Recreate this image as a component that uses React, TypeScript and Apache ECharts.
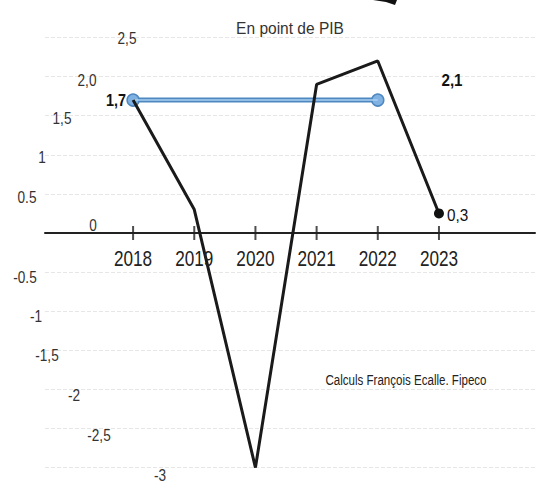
import React, { useEffect, useRef } from "react";
import * as echarts from "echarts";

const years = [2018, 2019, 2020, 2021, 2022, 2023];
const soldeValues = [1.7, 0.3, -3.0, 1.9, 2.2, 0.25];
const cibleYears = [2018, 2022];
const cibleValues = [1.7, 1.7];
const yTickValues = [2.5, 2, 1.5, 1, 0.5, 0, -0.5, -1, -1.5, -2, -2.5, -3];
const yTickLabels = ["2,5", "2,0", "1,5", "1", "0.5", "0", "-0.5", "-1", "-1,5", "-2", "-2,5", "-3"];
const labelCible = "1,7";
const labelPeak = "2,1";
const labelLast = "0,3";
const titleText = "En point de PIB";
const sourceText = "Calculs François Ecalle. Fipeco";

// layout only (scanned, staggered tick-label placement)
const yLabelX = [127, 87, 62, 42, 27, 93, 25, 36, 47, 74, 99, 160];
const yLabelDy = [0.5, 3, 2, 2, 3, -8, 5, 5, 5, 6, 6.5, 7];

const FONT = "'Liberation Sans',Arial,sans-serif";

function txt(x: number, y: number, text: string, size: number, sx: number, opts: any = {}) {
  return {
    type: "text",
    x,
    y,
    scaleX: sx,
    z: 10,
    style: {
      text,
      fill: opts.fill || "#333",
      fontSize: size,
      fontWeight: opts.bold ? "bold" : "normal",
      fontFamily: FONT,
      align: opts.align || "center",
      verticalAlign: "middle",
    },
  };
}

export default function App() {
  const ref = useRef<HTMLDivElement>(null);
  useEffect(() => {
    if (!ref.current) return;
    const chart = echarts.init(ref.current, null, { renderer: "svg" });
    const last = years.length - 1;
    const option: any = {
      animation: false,
      backgroundColor: "#ffffff",
      grid: { left: 45, right: 4, top: 37.5, bottom: 27.4 },
      xAxis: {
        type: "value",
        min: 2016.56,
        max: 2024.57,
        axisLine: { onZero: true, lineStyle: { color: "#222", width: 2 } },
        axisTick: { show: false },
        splitLine: { show: false },
        axisLabel: { show: false },
      },
      yAxis: {
        type: "value",
        min: -3,
        max: 2.5,
        interval: 0.5,
        axisLine: { show: false },
        axisTick: { show: false },
        axisLabel: { show: false },
        splitLine: { lineStyle: { color: "#e6e6e6", type: "dashed", width: 1 } },
      },
      series: [
        {
          type: "scatter",
          silent: true,
          z: 1,
          symbol: "rect",
          symbolSize: [2, 14],
          itemStyle: { color: "#222" },
          data: years.map((y) => [y, 0]),
        },
        {
          type: "line",
          z: 3,
          symbol: "circle",
          symbolSize: 12,
          lineStyle: { color: "#4f87c0", width: 5 },
          itemStyle: { color: "#7fb2e2", borderColor: "#4f87c0", borderWidth: 1.5 },
          data: cibleYears.map((y, i) => [y, cibleValues[i]]),
        },
        {
          type: "line",
          z: 4,
          showSymbol: false,
          symbol: "none",
          lineStyle: { color: "#a9cff0", width: 1.6 },
          data: cibleYears.map((y, i) => [y, cibleValues[i]]),
        },
        {
          type: "line",
          z: 5,
          symbol: "circle",
          symbolSize: (_v: any, p: any) => (p.dataIndex === last ? 10 : 0),
          lineStyle: { color: "#1a1a1a", width: 3 },
          itemStyle: { color: "#111" },
          data: years.map((y, i) => [y, soldeValues[i]]),
        },
      ],
    };
    chart.setOption(option);

    const px = (x: number, y: number) => chart.convertToPixel({ gridIndex: 0 }, [x, y]) as number[];

    const yLabels = yTickValues.map((v, i) => {
      const py = chart.convertToPixel({ yAxisIndex: 0 }, v) as number;
      return txt(yLabelX[i], py + yLabelDy[i], yTickLabels[i], 17, 0.8);
    });
    const xLabels = years.map((yr) => {
      const p = px(yr, 0);
      return txt(p[0], p[1] + 25.5, String(yr), 22, 0.78, { fill: "#222" });
    });
    const p1 = px(cibleYears[0], cibleValues[0]);
    const pLast = px(years[last], soldeValues[last]);
    chart.setOption({
      graphic: [
        ...yLabels,
        ...xLabels,
        txt(p1[0] - 7, p1[1], labelCible, 16, 0.9, { bold: true, fill: "#111", align: "right" }),
        txt(pLast[0] + 8, pLast[1] + 1, labelLast, 17, 0.9, { fill: "#111", align: "left" }),
        txt(452, 80, labelPeak, 16, 0.95, { bold: true, fill: "#111" }),
        txt(290, 28, titleText, 16, 0.97, { fill: "#333" }),
        txt(406, 380, sourceText, 15, 0.77, { fill: "#222" }),
        {
          type: "polygon",
          shape: { points: [[373, 0], [397, 0], [395, 5], [386, 2]] },
          style: { fill: "#111" },
        },
      ],
    });
    return () => chart.dispose();
  }, []);
  return (
    <div
      ref={ref}
      style={{ position: "fixed", left: 0, top: 0, width: 539, height: 495, background: "#fff" }}
    />
  );
}
